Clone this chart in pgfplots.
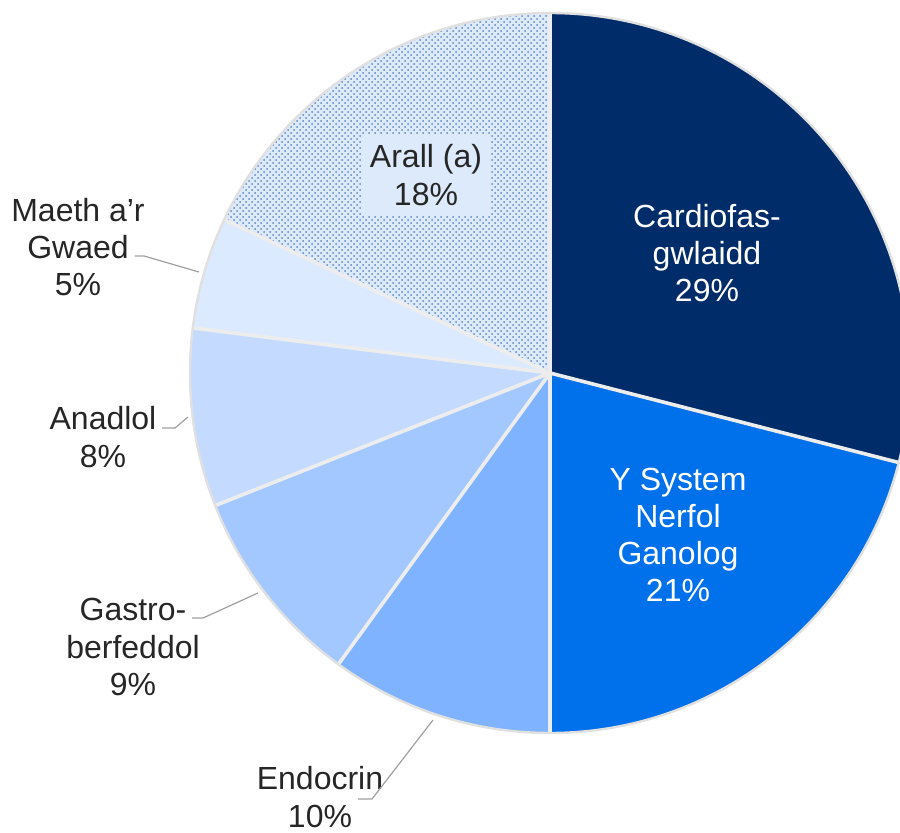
\documentclass[border=0pt]{standalone}
\usepackage{pgfplots}
\pgfplotsset{compat=1.18}
\usepackage{fontspec}
\setmainfont{Liberation Sans}
\usetikzlibrary{patterns}
\definecolor{cNavy}{HTML}{002D69}
\definecolor{cBlue}{HTML}{0071EB}
\definecolor{cEndo}{HTML}{7FB3FF}
\definecolor{cGast}{HTML}{A3C8FF}
\definecolor{cAnad}{HTML}{C4DBFF}
\definecolor{cMaet}{HTML}{DCEAFF}
\definecolor{cArBg}{HTML}{DDEAFB}
\definecolor{cArDot}{HTML}{5F88C4}
\definecolor{cLead}{HTML}{A0A0A0}
\definecolor{cTxt}{HTML}{262626}
% shares (percent), clockwise from 12 o'clock
\newcommand\valA{29}\newcommand\valB{21}\newcommand\valC{10}\newcommand\valD{9}
\newcommand\valE{8}\newcommand\valF{5}\newcommand\valG{18}
\pgfmathsetmacro\angA{90}
\pgfmathsetmacro\angB{\angA-3.6*\valA}
\pgfmathsetmacro\angC{\angB-3.6*\valB}
\pgfmathsetmacro\angD{\angC-3.6*\valC}
\pgfmathsetmacro\angE{\angD-3.6*\valD}
\pgfmathsetmacro\angF{\angE-3.6*\valE}
\pgfmathsetmacro\angG{\angF-3.6*\valF}
\pgfmathsetmacro\angH{\angG-3.6*\valG}
\newcommand\rad{180pt}
\tikzset{lbl/.style={font=\fontsize{16}{18.6}\selectfont, align=center, text=cTxt},
  sep/.style={white!93!black, line width=1.8pt},
  lead/.style={cLead, line width=0.6pt}}
\begin{document}
\begin{tikzpicture}
\begin{axis}[
  scale only axis, width=450pt, height=416pt,
  xmin=0, xmax=900, ymin=0, ymax=832,
  hide axis, clip=true,
]
\addplot[draw=none, forget plot] coordinates {(550,459)};
\fill[cNavy] (axis cs:550,459) -- ++(\angA:\rad) arc[start angle=\angA, end angle=\angB, radius=\rad] -- cycle;
\fill[cBlue] (axis cs:550,459) -- ++(\angB:\rad) arc[start angle=\angB, end angle=\angC, radius=\rad] -- cycle;
\fill[cEndo] (axis cs:550,459) -- ++(\angC:\rad) arc[start angle=\angC, end angle=\angD, radius=\rad] -- cycle;
\fill[cGast] (axis cs:550,459) -- ++(\angD:\rad) arc[start angle=\angD, end angle=\angE, radius=\rad] -- cycle;
\fill[cAnad] (axis cs:550,459) -- ++(\angE:\rad) arc[start angle=\angE, end angle=\angF, radius=\rad] -- cycle;
\fill[cMaet] (axis cs:550,459) -- ++(\angF:\rad) arc[start angle=\angF, end angle=\angG, radius=\rad] -- cycle;
\fill[cArBg] (axis cs:550,459) -- ++(\angG:\rad) arc[start angle=\angG, end angle=\angH, radius=\rad] -- cycle;
\fill[pattern=crosshatch dots, pattern color=cArDot] (axis cs:550,459) -- ++(\angG:\rad) arc[start angle=\angG, end angle=\angH, radius=\rad] -- cycle;
% separators
\draw[sep] (axis cs:550,459) -- ++(\angA:\rad);
\draw[sep] (axis cs:550,459) -- ++(\angB:\rad);
\draw[sep] (axis cs:550,459) -- ++(\angC:\rad);
\draw[sep] (axis cs:550,459) -- ++(\angD:\rad);
\draw[sep] (axis cs:550,459) -- ++(\angE:\rad);
\draw[sep] (axis cs:550,459) -- ++(\angF:\rad);
\draw[sep] (axis cs:550,459) -- ++(\angG:\rad);
\draw[black!12, line width=1.2pt] (axis cs:550,459) circle[radius=\rad];
% inside labels
\node[lbl, text=white] at (axis cs:707,579) {Cardiofas-\\gwlaidd\\29\%};
\node[lbl, text=white] at (axis cs:678,297) {Y System\\Nerfol\\Ganolog\\21\%};
\node[lbl, fill=cArBg, minimum width=64pt, minimum height=40pt, inner sep=0pt] at (axis cs:426,657) {Arall (a)\\18\%};
% outside labels
\node[lbl] at (axis cs:78,585) {Maeth a’r\\Gwaed\\5\%};
\node[lbl] at (axis cs:103,395) {Anadlol\\8\%};
\node[lbl] at (axis cs:133,185) {Gastro-\\berfeddol\\9\%};
\node[lbl] at (axis cs:320,35) {Endocrin\\10\%};
% leader lines
\draw[lead] (axis cs:135,576) -- (axis cs:144,576) -- (axis cs:199,560);
\draw[lead] (axis cs:162,404) -- (axis cs:175,404) -- (axis cs:188,415);
\draw[lead] (axis cs:192,214) -- (axis cs:203,214) -- (axis cs:258,239);
\draw[lead] (axis cs:358,33) -- (axis cs:372,33) -- (axis cs:433,112);
\end{axis}
\pgfresetboundingbox
\useasboundingbox (0,0) rectangle (450pt,416pt);
\end{tikzpicture}
\end{document}
